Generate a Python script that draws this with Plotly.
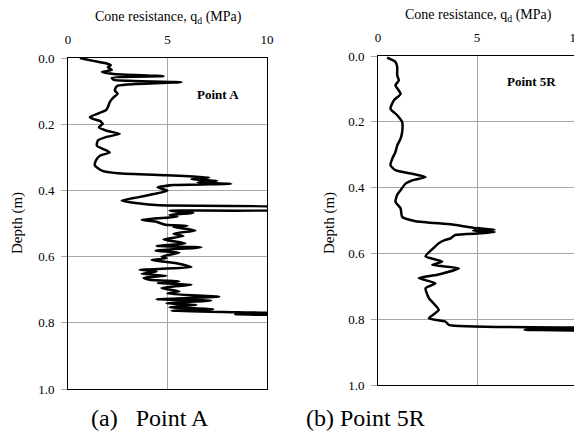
import plotly.graph_objects as go

# Point A: depth (m) and cone resistance q_d (MPa)
depth_A = [0.000, 0.008, 0.016, 0.022, 0.028, 0.036, 0.042, 0.048, 0.055, 0.060,
           0.066, 0.073, 0.080, 0.085, 0.098, 0.108, 0.118, 0.133, 0.149, 0.158,
           0.168, 0.178, 0.184, 0.190, 0.199, 0.209, 0.219, 0.229, 0.239, 0.249,
           0.265, 0.285, 0.295, 0.310, 0.325, 0.340, 0.348, 0.354, 0.358, 0.361,
           0.366, 0.371, 0.376, 0.380, 0.384, 0.391, 0.401, 0.411, 0.421, 0.431,
           0.439, 0.445, 0.452, 0.458, 0.461, 0.465, 0.468, 0.474, 0.479, 0.489,
           0.494, 0.504, 0.507, 0.511, 0.521, 0.531, 0.538, 0.548, 0.560, 0.568,
           0.572, 0.582, 0.588, 0.600, 0.605, 0.610, 0.620, 0.632, 0.640, 0.645,
           0.652, 0.658, 0.664, 0.670, 0.675, 0.680, 0.685, 0.695, 0.705, 0.712,
           0.721, 0.729, 0.733, 0.741, 0.746, 0.753, 0.759, 0.764, 0.768, 0.771,
           0.774, 0.777]
qd_A = [0.6, 1.2, 1.9, 2.15, 2.0, 2.2, 1.7, 2.3, 4.8, 2.2,
        2.3, 5.7, 3.0, 2.45, 2.35, 2.5, 2.3, 2.1, 2.0, 1.9,
        1.5, 1.1, 1.25, 1.6, 1.75, 1.55, 1.9, 2.6, 1.9, 1.5,
        1.45, 2.1, 1.6, 1.4, 1.35, 1.7, 2.5, 4.9, 6.3, 7.1,
        6.2, 7.5, 6.5, 8.2, 5.3, 4.5, 5.0, 4.3, 3.5, 2.7,
        3.5, 4.6, 11.0, 11.0, 5.1, 5.6, 6.3, 5.1, 5.5, 3.7,
        4.4, 4.9, 6.0, 5.3, 6.4, 5.3, 5.8, 4.8, 5.9, 4.45,
        6.7, 4.4, 5.6, 4.7, 4.95, 4.2, 5.45, 6.2, 3.6, 4.45,
        3.7, 4.95, 3.8, 4.1, 5.6, 4.5, 6.2, 4.7, 5.6, 5.0,
        7.6, 4.45, 7.2, 4.95, 6.45, 5.1, 7.3, 5.2, 8.5, 11.0,
        8.4, 11.0]

# Point 5R
depth_5R = [0.005, 0.018, 0.033, 0.059, 0.074, 0.089, 0.115, 0.135, 0.160, 0.180,
            0.201, 0.231, 0.251, 0.272, 0.292, 0.312, 0.332, 0.347, 0.358, 0.368,
            0.378, 0.388, 0.408, 0.422, 0.443, 0.463, 0.489, 0.502, 0.512, 0.522,
            0.528, 0.531, 0.535, 0.539, 0.544, 0.554, 0.559, 0.569, 0.584, 0.609,
            0.625, 0.635, 0.645, 0.665, 0.675, 0.691, 0.706, 0.736, 0.772, 0.797,
            0.807, 0.818, 0.826, 0.832, 0.835]
qd_5R = [0.46, 0.88, 0.97, 0.97, 1.05, 0.88, 1.14, 0.8, 0.63, 0.97,
         1.22, 1.22, 1.14, 0.97, 0.88, 0.72, 0.63, 0.88, 1.73, 2.4,
         1.73, 1.39, 1.14, 0.97, 0.88, 1.14, 1.22, 1.9, 3.75, 4.8,
         5.9, 4.8, 5.9, 5.2, 3.9, 3.67, 3.4, 3.07, 2.8, 2.4,
         3.24, 2.74, 4.08, 3.0, 2.06, 2.9, 2.4, 2.57, 3.07, 2.57,
         3.4, 3.6, 10.5, 7.4, 10.5]

x_ticks = [0, 5, 10]
y_ticks = [0.0, 0.2, 0.4, 0.6, 0.8, 1.0]

FONT = "Liberation Serif"
# The page places the figure 8 px from the top-left of the window (body margin),
# so the figure is sized to fill the remaining window exactly.
OFF = 8
W, H = 582 - OFF, 440 - OFF

def px(x):
    return (x - OFF) / W

def py(y):
    return 1 - (y - OFF) / H

fig = go.Figure()
fig.add_trace(go.Scatter(x=qd_A, y=depth_A, mode="lines",
                         line=dict(color="black", width=2.5, shape="spline", smoothing=0.5),
                         xaxis="x", yaxis="y", showlegend=False))
fig.add_trace(go.Scatter(x=qd_5R, y=depth_5R, mode="lines",
                         line=dict(color="black", width=2.5, shape="spline", smoothing=0.5),
                         xaxis="x2", yaxis="y2", showlegend=False))

xcommon = dict(range=[0, 10], tickvals=x_ticks, side="top", showgrid=True,
               gridcolor="#a6a6a6", gridwidth=1, showline=True, linecolor="black",
               linewidth=1, mirror=True, ticks="outside", ticklen=8, tickcolor="rgba(0,0,0,0)",
               zeroline=False, automargin=False, ticklabeloverflow="allow",
               tickfont=dict(family=FONT, size=13, color="black"))
ycommon = dict(range=[1.0, 0.0], tickvals=y_ticks, tickformat=".1f", showgrid=True,
               gridcolor="#a6a6a6", gridwidth=1, showline=True, linecolor="black",
               linewidth=1, mirror=True, ticks="outside", ticklen=6, tickcolor="#a6a6a6",
               ticklabelstandoff=4,
               zeroline=False, automargin=False, ticklabeloverflow="allow",
               tickfont=dict(family=FONT, size=13, color="black"))

fig.update_layout(
    width=W, height=H,
    margin=dict(l=0, r=0, t=0, b=0, autoexpand=False),
    paper_bgcolor="white", plot_bgcolor="white",
    font=dict(family=FONT, color="black"),
    xaxis=dict(domain=[px(68), px(267)], anchor="y", **xcommon),
    yaxis=dict(domain=[py(389), py(58)], anchor="x", **ycommon),
    xaxis2=dict(domain=[px(378), min(1.0, px(576))], anchor="y2", **xcommon),
    yaxis2=dict(domain=[py(385), py(56)], anchor="x2", **ycommon),
)

ann = [
    dict(text="Cone resistance, q<sub>d</sub> (MPa)", x=px(168), y=py(17), size=14),
    dict(text="Cone resistance, q<sub>d</sub> (MPa)", x=px(478), y=py(15), size=14),
    dict(text="<b>Point A</b>", x=px(218), y=py(95), size=13),
    dict(text="<b>Point 5R</b>", x=px(531), y=py(81), size=13),
    dict(text="(a)&nbsp;&nbsp; Point A", x=px(150), y=py(418), size=24),
    dict(text="(b) Point 5R", x=px(365), y=py(418), size=24),
]
for a in ann:
    fig.add_annotation(text=a["text"], x=a["x"], y=a["y"], xref="paper", yref="paper",
                       showarrow=False, xanchor="center", yanchor="middle",
                       font=dict(family=FONT, size=a["size"], color="black"))
for xx in [18, 330]:
    fig.add_annotation(text="Depth (m)", x=px(xx), y=py(223), xref="paper", yref="paper",
                       showarrow=False, textangle=-90, xanchor="center", yanchor="middle",
                       font=dict(family=FONT, size=15, color="black"))

fig.write_html("out.html")
